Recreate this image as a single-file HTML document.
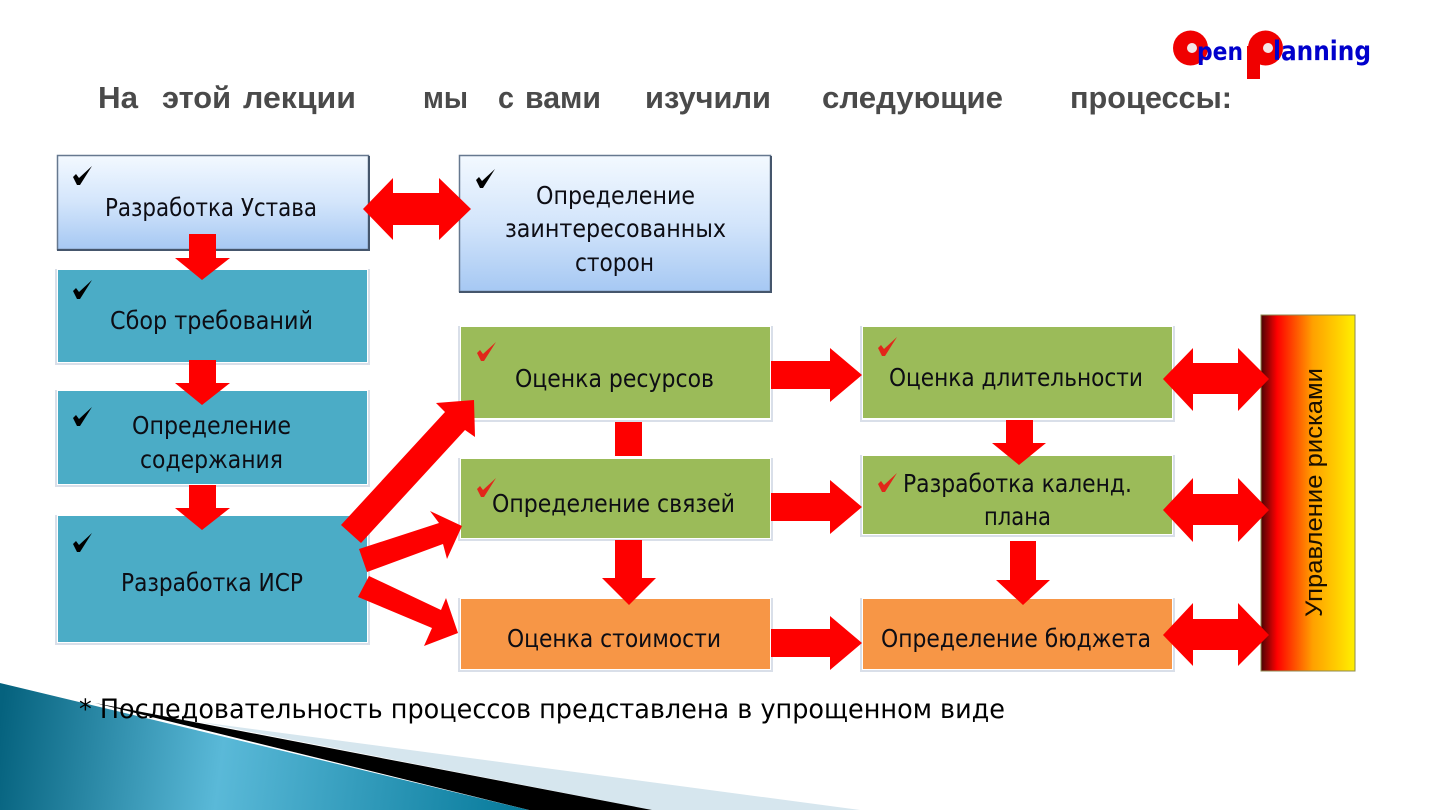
<!DOCTYPE html>
<html lang="ru"><head><meta charset="utf-8"><title>Процессы</title>
<style>
html,body{margin:0;padding:0;background:#fff;width:1440px;height:810px;overflow:hidden}
svg{display:block}
text{font-family:"Liberation Sans","DejaVu Sans",sans-serif}
.t{font-family:"DejaVu Sans",sans-serif;font-size:25px;fill:#0d0d14}
.h{font-size:31px;font-weight:bold;fill:#4a4a4a}
.k{fill:#000}
.r{fill:#e2261a}
.a{fill:#fe0000}
.f{fill:none;stroke:#d9dfe9;stroke-width:2}
</style></head><body>
<svg width="1440" height="810" viewBox="0 0 1440 810" xmlns="http://www.w3.org/2000/svg">
<defs>
<linearGradient id="b" x1="0" y1="0" x2="0" y2="1"><stop offset="0" stop-color="#f3f9ff"/><stop offset=".5" stop-color="#d3e5fb"/><stop offset="1" stop-color="#a6c8f3"/></linearGradient>
<linearGradient id="r" x1="0" y1="0" x2="1" y2="0"><stop offset="0" stop-color="#4a0505"/><stop offset=".17" stop-color="#fe0000"/><stop offset=".55" stop-color="#ffa000"/><stop offset="1" stop-color="#fff000"/></linearGradient>
<linearGradient id="w" gradientUnits="userSpaceOnUse" x1="0" y1="720" x2="530" y2="790"><stop offset="0" stop-color="#05627e"/><stop offset=".42" stop-color="#5ab9d8"/><stop offset="1" stop-color="#05799a"/></linearGradient>
</defs>

<!-- bottom wedges -->
<polygon points="200,722 860,810 652,810" fill="#d6e6ee"/>
<polygon points="95,703 652,810 529,810" fill="#000"/>
<polygon points="0,683 529,810 0,810" fill="url(#w)"/>

<!-- title -->
<text class="h" x="98" y="108" textLength="40" lengthAdjust="spacingAndGlyphs">На</text>
<text class="h" x="162" y="108" textLength="69" lengthAdjust="spacingAndGlyphs">этой</text>
<text class="h" x="243" y="108" textLength="113" lengthAdjust="spacingAndGlyphs">лекции</text>
<text class="h" x="423" y="108" textLength="45" lengthAdjust="spacingAndGlyphs">мы</text>
<text class="h" x="498" y="108" textLength="16" lengthAdjust="spacingAndGlyphs">с</text>
<text class="h" x="525" y="108" textLength="76" lengthAdjust="spacingAndGlyphs">вами</text>
<text class="h" x="645" y="108" textLength="126" lengthAdjust="spacingAndGlyphs">изучили</text>
<text class="h" x="822" y="108" textLength="181" lengthAdjust="spacingAndGlyphs">следующие</text>
<text class="h" x="1070" y="108" textLength="162" lengthAdjust="spacingAndGlyphs">процессы:</text>

<!-- logo -->
<circle cx="1190.500" cy="48" r="17.500" fill="#f00000"/>
<circle cx="1192" cy="48" r="5" fill="#f4e6e6"/>
<circle cx="1265.500" cy="48" r="17.500" fill="#f00000"/>
<rect x="1247" y="46" width="13" height="33" fill="#f00000"/>
<circle cx="1268" cy="48" r="5" fill="#f4e6e6"/>
<text x="1197" y="60" textLength="46" lengthAdjust="spacingAndGlyphs" style="font-family:'DejaVu Sans',sans-serif;font-weight:bold;font-size:25px;fill:#0000cc">pen</text>
<text x="1273" y="60" textLength="98" lengthAdjust="spacingAndGlyphs" style="font-family:'DejaVu Sans',sans-serif;font-weight:bold;font-size:27px;fill:#0000cc">lanning</text>

<!-- boxes: blue -->
<rect x="57.500" y="155.500" width="311" height="94" fill="url(#b)" stroke="#66788f" stroke-width="1.500"/>
<path d="M369 156V250H57" fill="none" stroke="#45566c" stroke-width="2"/>
<rect x="459.500" y="155.500" width="311" height="136" fill="url(#b)" stroke="#66788f" stroke-width="1.500"/>
<path d="M771 156V292H459" fill="none" stroke="#45566c" stroke-width="2"/>

<!-- boxes: frames (left, bottom, right) -->
<path class="f" d="M56 269V364H369V269"/>
<path class="f" d="M56 390V486H369V390"/>
<path class="f" d="M56 515V644H369V515"/>
<path class="f" d="M459 326V421H772V326"/>
<path class="f" d="M459 458V540H772V458"/>
<path class="f" d="M459 598V671H772V598"/>
<path class="f" d="M861 326V421H1174V326"/>
<path class="f" d="M861 455V536H1174V455"/>
<path class="f" d="M861 598V671H1174V598"/>

<!-- boxes: fills -->
<rect x="58" y="270" width="309" height="92" fill="#4bacc6"/>
<rect x="58" y="391" width="309" height="93" fill="#4bacc6"/>
<rect x="58" y="516" width="309" height="126" fill="#4bacc6"/>
<rect x="461" y="327" width="309" height="91" fill="#9bbb59"/>
<rect x="461" y="459" width="309" height="79" fill="#9bbb59"/>
<rect x="461" y="599" width="309" height="70" fill="#f79646"/>
<rect x="863" y="327" width="309" height="91" fill="#9bbb59"/>
<rect x="863" y="456" width="309" height="78" fill="#9bbb59"/>
<rect x="863" y="599" width="309" height="70" fill="#f79646"/>

<!-- risk bar -->
<rect x="1261" y="315" width="94" height="356" fill="url(#r)" stroke="#8c8a50" stroke-width="1"/>
<text transform="translate(1322,617) rotate(-90)" x="0" y="0" textLength="249" lengthAdjust="spacingAndGlyphs" style="font-size:24px;fill:#1a0f00">Управление рисками</text>

<!-- arrows -->
<g class="a">
<polygon points="363,209 393,178 393,193 439,193 439,178 471,209 439,240 439,225 393,225 393,240"/>
<polygon points="189,234 216,234 216,258 230,258 202,280 175,258 189,258"/>
<polygon points="189,360 216,360 216,383 230,383 202,405 175,383 189,383"/>
<polygon points="189,485 216,485 216,508 230,508 202,530 175,508 189,508"/>
<rect x="615" y="422" width="27" height="34"/>
<polygon points="615,540 642,540 642,578 656,578 629,605 602,578 615,578"/>
<polygon points="341,525 445,412 436,403 474,400 475,437 465,430 361,543"/>
<polygon points="359,549 439,523 430,511 462,526 447,559 443,544 367,572"/>
<polygon points="369,576 441,610 446,598 458,633 424,646 432,628 358,597"/>
<polygon points="771,361 830,361 830,348 862,375 830,402 830,389 771,389"/>
<polygon points="771,493 830,493 830,480 862,507 830,534 830,521 771,521"/>
<polygon points="771,629 830,629 830,616 862,643 830,670 830,657 771,657"/>
<polygon points="1006,420 1033,420 1033,443 1046,443 1019,465 992,443 1006,443"/>
<polygon points="1010,541 1036,541 1036,580 1050,580 1023,605 996,580 1010,580"/>
<polygon points="1163,379 1193,348 1193,363 1238,363 1238,348 1269,379 1238,411 1238,394 1193,394 1193,411"/>
<polygon points="1163,510 1193,478 1193,494 1238,494 1238,478 1269,510 1238,542 1238,525 1193,525 1193,542"/>
<polygon points="1163,635 1193,603 1193,619 1238,619 1238,603 1269,635 1238,666 1238,650 1193,650 1193,666"/>
</g>

<!-- checks -->
<polygon class="k" transform="translate(73,166)" points="0,11 3,8 6,12 19,0 7,19 4,19"/>
<polygon class="k" transform="translate(73,280)" points="0,11 3,8 6,12 19,0 7,19 4,19"/>
<polygon class="k" transform="translate(73,407)" points="0,11 3,8 6,12 19,0 7,19 4,19"/>
<polygon class="k" transform="translate(73,533)" points="0,11 3,8 6,12 19,0 7,19 4,19"/>
<polygon class="k" transform="translate(476,169)" points="0,11 3,8 6,12 19,0 7,19 4,19"/>
<polygon class="r" transform="translate(477,342)" points="0,11 3,8 6,12 19,0 7,19 4,19"/>
<polygon class="r" transform="translate(477,478)" points="0,11 3,8 6,12 19,0 7,19 4,19"/>
<polygon class="r" transform="translate(878,337)" points="0,11 3,8 6,12 19,0 7,19 4,19"/>
<polygon class="r" transform="translate(878,473)" points="0,11 3,8 6,12 19,0 7,19 4,19"/>

<!-- labels -->
<text class="t" x="105" y="216" textLength="212" lengthAdjust="spacingAndGlyphs">Разработка Устава</text>
<text class="t" x="110" y="329" textLength="203" lengthAdjust="spacingAndGlyphs">Сбор требований</text>
<text class="t" x="132" y="434" textLength="159" lengthAdjust="spacingAndGlyphs">Определение</text>
<text class="t" x="140" y="468" textLength="143" lengthAdjust="spacingAndGlyphs">содержания</text>
<text class="t" x="121" y="591" textLength="182" lengthAdjust="spacingAndGlyphs">Разработка ИСР</text>
<text class="t" x="536" y="204" textLength="159" lengthAdjust="spacingAndGlyphs">Определение</text>
<text class="t" x="505" y="237" textLength="221" lengthAdjust="spacingAndGlyphs">заинтересованных</text>
<text class="t" x="575" y="271" textLength="79" lengthAdjust="spacingAndGlyphs">сторон</text>
<text class="t" x="515" y="387" textLength="199" lengthAdjust="spacingAndGlyphs">Оценка ресурсов</text>
<text class="t" x="492" y="512" textLength="243" lengthAdjust="spacingAndGlyphs">Определение связей</text>
<text class="t" x="507" y="647" textLength="214" lengthAdjust="spacingAndGlyphs">Оценка стоимости</text>
<text class="t" x="889" y="386" textLength="254" lengthAdjust="spacingAndGlyphs">Оценка длительности</text>
<text class="t" x="903" y="492" textLength="229" lengthAdjust="spacingAndGlyphs">Разработка календ.</text>
<text class="t" x="984" y="525" textLength="67" lengthAdjust="spacingAndGlyphs">плана</text>
<text class="t" x="881" y="647" textLength="270" lengthAdjust="spacingAndGlyphs">Определение бюджета</text>
<text x="79" y="718" textLength="926" lengthAdjust="spacingAndGlyphs" style="font-family:'DejaVu Sans',sans-serif;font-size:27px;fill:#000">* Последовательность процессов представлена в упрощенном виде</text>
</svg>
</body></html>
